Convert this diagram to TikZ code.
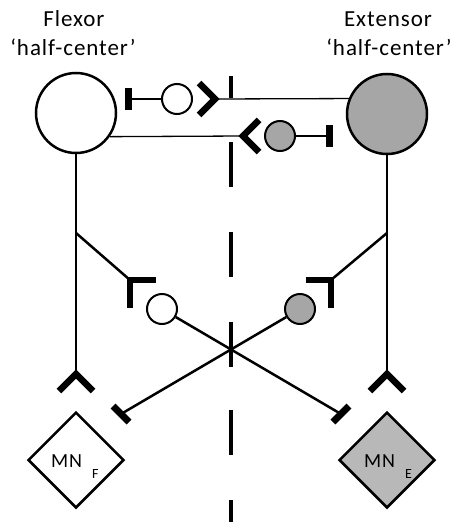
\documentclass[tikz,border=0pt]{standalone}
\usepackage{fontspec}
\setmainfont{Carlito}[LetterSpace=4]
\usetikzlibrary{shapes.geometric}
\definecolor{cellgray}{RGB}{166,166,166}
\definecolor{mngray}{RGB}{184,184,184}
\begin{document}
\begin{tikzpicture}[x=1pt,y=-1pt,
  hdr/.style={font=\fontsize{23}{28}\selectfont, inner sep=0},
  mnl/.style={font=\fontsize{20}{22}\selectfont, inner sep=0},
  subl/.style={font=\fontsize{14}{15}\selectfont, inner sep=0},
  bigcell/.style={circle, draw, line width=2.5pt, minimum size=80pt, inner sep=0},
  smallcell/.style={circle, draw, line width=2pt, minimum size=30pt, inner sep=0},
  mnbox/.style={diamond, draw, line width=2.5pt, minimum width=96pt, minimum height=96pt, inner sep=0},
  axon/.style={line width=2.5pt},
  thinaxon/.style={line width=1.3pt},
  inhibbar/.style={line width=7pt},
  corner/.style={line width=6.5pt, line join=miter, miter limit=10},
  excit/.style={line width=6.5pt, line join=miter, miter limit=10},
  midline/.style={line width=3.5pt}]
\useasboundingbox (0,0) rectangle (452,522);

% headers
\node[hdr, anchor=base] (tF1) at (74,27) {Flexor};
\node[hdr, anchor=base] (tF2) at (73,55) {‘half-center’};
\node[hdr, anchor=base] (tE1) at (388,27) {Extensor};
\node[hdr, anchor=base] (tE2) at (389,55) {‘half-center’};

% midline dashes
\draw[midline] (231,76) -- (231,98);
\draw[midline] (231,142) -- (231,187);
\draw[midline] (231,232) -- (231,277);
\draw[midline] (231,322) -- (231,367);
\draw[midline] (231,410) -- (231,455);
\draw[midline] (231,500) -- (231,522);

% cells
\node[bigcell, fill=white] (F) at (76,113) {};
\node[bigcell, fill=cellgray] (E) at (387,114) {};
\node[smallcell, fill=white] (i1) at (177,99) {};
\node[smallcell, fill=cellgray] (i2) at (280,136) {};
\node[smallcell, fill=white] (i3) at (162,309) {};
\node[smallcell, fill=cellgray] (i4) at (300,309) {};
\node[mnbox, fill=white] (MNF) at (76,460) {};
\node[mnbox, fill=mngray] (MNE) at (387,460) {};

% MN labels
\node[mnl, anchor=base west] (lF) at (51,467) {MN};
\node[subl, anchor=base west] (sF) at (92,478) {F};
\node[mnl, anchor=base west] (lE) at (364,467) {MN};
\node[subl, anchor=base west] (sE) at (405,478) {E};

% synapse points
\coordinate (ex1) at (215,99);
\coordinate (in1) at (128,99);
\coordinate (ex2) at (243,136);
\coordinate (in2) at (329,136);
\coordinate (ex3) at (76,374);
\coordinate (ex4) at (387,374);
\coordinate (bl) at (76,233);
\coordinate (br) at (387,233);
\coordinate (gl) at (130,280);
\coordinate (gr) at (331,280);
\coordinate (endR) at (341,414);
\coordinate (endL) at (121,414);

% top reciprocal connections
\draw[thinaxon] (E.158) -- (ex1);
\draw[excit] (199,83) -- (ex1) -- (199,115);
\draw[axon] (i1.west) -- (in1);
\draw[inhibbar] (128,88) -- (128,110);

\draw[thinaxon] (F.-35) -- (ex2);
\draw[excit] (259,120) -- (ex2) -- (259,152);
\draw[axon] (i2.east) -- (in2);
\draw[inhibbar] (329,125) -- (329,147);

% verticals to motoneurons
\draw[axon] (F.south) -- (ex3);
\draw[excit] (59,391) -- (ex3) -- (93,391);
\draw[axon] (E.south) -- (ex4);
\draw[excit] (370,391) -- (ex4) -- (404,391);

% branches to crossed inhibitory interneurons
\draw[axon] (bl) -- (gl);
\draw[corner] (156,280) -- (gl) -- (130,308);
\draw[axon] (br) -- (gr);
\draw[corner] (306,280) -- (gr) -- (331,308);

% crossing projections
\draw[axon] (i3) -- (endR);
\draw[inhibbar] (333,422) -- (349,406);
\draw[axon] (i4) -- (endL);
\draw[inhibbar] (113,406) -- (129,422);
\end{tikzpicture}
\end{document}
